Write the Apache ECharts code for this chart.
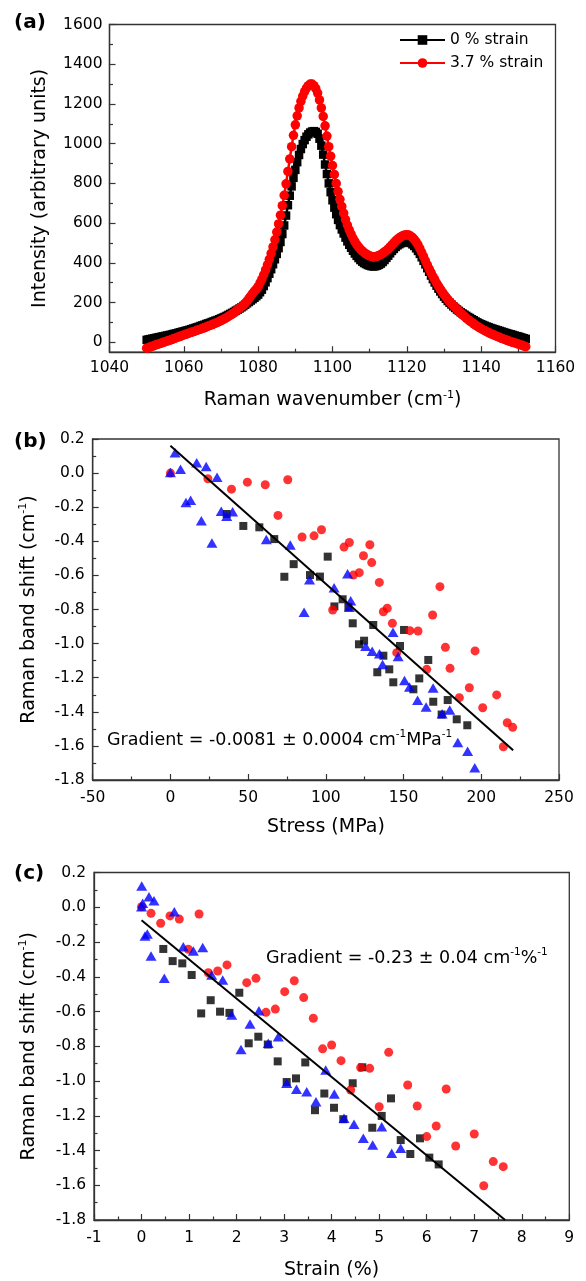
<!DOCTYPE html>
<html><head><meta charset="utf-8">
<script src="https://cdn.jsdelivr.net/npm/echarts@6/dist/echarts.min.js"></script>
<style>html,body{margin:0;padding:0;background:#fff}#c{width:586px;height:1281px}</style>
</head><body><div id="c"></div>
<script>
// ---------- Panel (a) data ----------
const wavenumber = [
1050,1050.5,1051,1051.5,1052,1052.5,1053,1053.5,1054,1054.5,
1055,1055.5,1056,1056.5,1057,1057.5,1058,1058.5,1059,1059.5,
1060,1060.5,1061,1061.5,1062,1062.5,1063,1063.5,1064,1064.5,
1065,1065.5,1066,1066.5,1067,1067.5,1068,1068.5,1069,1069.5,
1070,1070.5,1071,1071.5,1072,1072.5,1073,1073.5,1074,1074.5,
1075,1075.5,1076,1076.5,1077,1077.5,1078,1078.5,1079,1079.5,
1080,1080.5,1081,1081.5,1082,1082.5,1083,1083.5,1084,1084.5,
1085,1085.5,1086,1086.5,1087,1087.5,1088,1088.5,1089,1089.5,
1090,1090.5,1091,1091.5,1092,1092.5,1093,1093.5,1094,1094.5,
1095,1095.5,1096,1096.5,1097,1097.5,1098,1098.5,1099,1099.5,
1100,1100.5,1101,1101.5,1102,1102.5,1103,1103.5,1104,1104.5,
1105,1105.5,1106,1106.5,1107,1107.5,1108,1108.5,1109,1109.5,
1110,1110.5,1111,1111.5,1112,1112.5,1113,1113.5,1114,1114.5,
1115,1115.5,1116,1116.5,1117,1117.5,1118,1118.5,1119,1119.5,
1120,1120.5,1121,1121.5,1122,1122.5,1123,1123.5,1124,1124.5,
1125,1125.5,1126,1126.5,1127,1127.5,1128,1128.5,1129,1129.5,
1130,1130.5,1131,1131.5,1132,1132.5,1133,1133.5,1134,1134.5,
1135,1135.5,1136,1136.5,1137,1137.5,1138,1138.5,1139,1139.5,
1140,1140.5,1141,1141.5,1142,1142.5,1143,1143.5,1144,1144.5,
1145,1145.5,1146,1146.5,1147,1147.5,1148,1148.5,1149,1149.5,
1150,1150.5,1151,1151.5,1152];
const intensity0 = [
12,14,16,18,20,22,24,26,28,30,
32,34,36,38,41,43,45,48,50,53,
55,58,60,63,66,69,72,75,78,82,
85,88,92,95,98,102,105,109,112,116,
120,124,128,133,138,143,148,153,159,164,
170,176,182,189,196,203,210,217,224,232,
240,252,265,283,302,323,345,368,393,418,
445,474,505,545,588,638,690,738,785,828,
868,907,943,973,998,1018,1035,1047,1056,1061,
1063,1059,1050,1025,990,945,895,847,800,756,
715,678,645,616,590,568,548,527,508,491,
476,461,447,435,424,414,406,399,394,389,
386,383,382,383,386,390,396,404,414,425,
436,448,460,470,480,488,494,499,503,505,
506,504,500,493,485,473,460,445,428,410,
392,373,355,336,318,301,285,270,256,243,
230,219,208,199,190,181,173,165,158,151,
145,139,133,127,122,116,111,105,100,95,
91,87,83,79,76,72,69,66,63,60,
57,54,51,48,45,42,40,37,34,31,
29,26,23,20,17];
const intensity37 = [
-30,-27,-23,-20,-17,-13,-10,-7,-4,0,
3,6,9,12,16,19,23,26,30,33,
37,40,43,47,50,53,56,60,63,66,
70,73,77,81,85,88,92,96,100,104,
109,114,119,124,130,136,142,149,156,163,
171,179,187,196,207,220,233,245,257,268,
280,299,318,340,364,390,418,448,480,516,
555,596,640,688,740,798,860,923,985,1042,
1095,1140,1180,1213,1240,1262,1280,1292,1300,1300,
1292,1277,1255,1220,1180,1137,1090,1038,985,937,
890,845,800,759,720,684,650,618,590,566,
545,525,508,493,480,469,460,452,445,440,
435,432,431,431,433,437,442,448,455,462,
470,480,490,500,510,519,526,532,537,540,
542,540,535,528,518,505,490,472,452,431,
410,390,370,351,332,315,298,283,268,254,
240,228,216,205,195,185,175,165,156,147,
138,130,122,114,107,100,93,86,80,74,
68,63,58,53,49,44,40,36,32,28,
24,20,17,13,10,6,3,0,-3,-6,
-9,-12,-15,-19,-22];
const legendNames = ['0 % strain', '3.7 % strain'];
const intensityMajorTicks = [0,200,400,600,800,1000,1200,1400,1600];
const intensityMinorTicks = [100,300,500,700,900,1100,1300,1500];

// ---------- Panel (b) data: shift vs stress ----------
const stressSqB = [36.2,46.9,57.2,66.8,73.3,79.3,89.8,96.2,101.2,105.5,110.8,114.5,117.3,121.3,124.6,130.5,133.1,137,140.8,143.4,147.7,150.3,156.3,160.1,165.9,169.1,174.5,178.4,184.2,191];
const shiftSqB = [-0.24,-0.31,-0.318,-0.387,-0.608,-0.534,-0.598,-0.607,-0.49,-0.782,-0.74,-0.785,-0.881,-1.004,-0.983,-0.891,-1.168,-1.071,-1.151,-1.227,-1.014,-0.92,-1.268,-1.204,-1.096,-1.341,-1.416,-1.331,-1.444,-1.479];
const stressCiB = [0,24.1,39.3,49.5,61,69.2,75.5,84.7,92.4,97.2,104.4,111.7,115.1,117.7,121.5,124.2,128.3,129.5,134.4,137,139.5,142.8,145.6,154.1,159.3,164.9,168.7,173.4,176.9,179.9,185.9,192.3,196,200.9,209.9,214.2,216.7,220.2];
const shiftCiB = [0,-0.033,-0.094,-0.053,-0.068,-0.248,-0.039,-0.375,-0.368,-0.332,-0.803,-0.434,-0.407,-0.598,-0.584,-0.485,-0.42,-0.525,-0.641,-0.813,-0.793,-0.881,-1.053,-0.924,-0.926,-1.151,-0.832,-0.666,-1.022,-1.145,-1.317,-1.259,-1.043,-1.376,-1.301,-1.605,-1.464,-1.491];
const stressTrB = [0,3,6.5,10,13,16.9,19.9,23,26.7,30,32.7,36.2,40,61.7,77.1,86,89.5,105.3,114,116,115.1,125.6,129.8,134.5,136.5,143.2,146.5,150.6,153.8,159,164.5,169,174.8,179.7,184.9,191.2,195.8];
const shiftTrB = [0.003,0.12,0.022,-0.172,-0.159,0.06,-0.28,0.038,-0.41,-0.025,-0.224,-0.253,-0.226,-0.39,-0.421,-0.816,-0.625,-0.673,-0.591,-0.748,-0.787,-1.016,-1.045,-1.06,-1.123,-0.933,-1.076,-1.216,-1.254,-1.332,-1.372,-1.26,-1.412,-1.39,-1.58,-1.632,-1.728];
const fitStressB = [0, 220.5];
const fitShiftB = [0.16, -1.625];

// ---------- Panel (c) data: shift vs strain ----------
const strainSqC = [0.458,0.655,0.858,1.055,1.255,1.455,1.652,1.85,2.057,2.255,2.457,2.657,2.865,3.054,3.25,3.445,3.65,3.846,4.05,4.245,4.443,4.645,4.855,5.053,5.249,5.453,5.655,5.859,6.055,6.252];
const shiftSqC = [-0.24,-0.31,-0.323,-0.39,-0.611,-0.535,-0.601,-0.608,-0.492,-0.783,-0.745,-0.79,-0.887,-1.006,-0.985,-0.893,-1.168,-1.072,-1.154,-1.22,-1.013,-0.921,-1.269,-1.201,-1.1,-1.34,-1.42,-1.33,-1.441,-1.48];
const strainCiC = [0,0.2,0.403,0.599,0.795,0.984,1.21,1.405,1.603,1.798,2.213,2.408,2.619,2.815,3.012,3.214,3.412,3.614,3.81,4.0,4.197,4.4,4.61,4.8,5.0,5.2,5.6,5.8,6.0,6.2,6.41,6.61,7.0,7.2,7.4,7.61];
const shiftCiC = [0.003,-0.035,-0.092,-0.05,-0.068,-0.242,-0.039,-0.377,-0.367,-0.332,-0.434,-0.409,-0.605,-0.586,-0.486,-0.423,-0.52,-0.639,-0.815,-0.793,-0.883,-1.052,-0.923,-0.927,-1.148,-0.835,-1.023,-1.144,-1.32,-1.259,-1.046,-1.374,-1.305,-1.603,-1.464,-1.493];
const strainTrC = [0,0.004,0.024,0.073,0.122,0.157,0.2,0.262,0.479,0.69,0.879,1.09,1.287,1.476,1.708,1.897,2.093,2.282,2.47,2.667,2.877,3.054,3.26,3.475,3.67,3.875,4.056,4.26,4.47,4.666,4.863,5.053,5.263,5.453];
const shiftTrC = [0.003,0.122,0.023,-0.165,-0.154,0.061,-0.28,0.038,-0.409,-0.026,-0.227,-0.252,-0.231,-0.39,-0.419,-0.62,-0.818,-0.672,-0.595,-0.783,-0.745,-1.013,-1.048,-1.062,-1.119,-0.937,-1.075,-1.215,-1.249,-1.33,-1.368,-1.263,-1.416,-1.387];
const fitStrainC = [0, 7.65];
const fitShiftC = [-0.075, -1.8];

const gradientTextB = 'Gradient = -0.0081 \u00b1 0.0004 cm{sup|-1}MPa{sup|-1}';
const gradientTextC = 'Gradient = -0.23 \u00b1 0.04 cm{sup|-1}%{sup|-1}';

// ---------- build ----------
const zip = (xs, ys) => xs.map((x, i) => [x, ys[i]]);
const FONT = 'DejaVu Sans';
const LINE = '#333';
const TXT = '#000';
const supRich = {sup: {fontFamily: FONT, fontSize: 11, lineHeight: 12, verticalAlign: 'top', color: TXT}};

function axis(o) {
  const a = {
    type: 'value', gridIndex: o.grid, min: o.min, max: o.max,
    name: o.name, nameLocation: 'middle', nameGap: o.nameGap, nameMoveOverlap: false,
    nameTextStyle: {fontFamily: FONT, fontSize: 19, color: TXT, lineHeight: 22, rich: supRich},
    axisLine: {show: true, onZero: false, lineStyle: {color: LINE, width: 1.3}},
    axisTick: {show: true, inside: true, length: 6, lineStyle: {color: LINE, width: 1.2}},
    minorTick: {show: true, splitNumber: 2, length: 3.5, lineStyle: {color: LINE, width: 1.2}},
    axisLabel: {fontFamily: FONT, fontSize: 15.5, color: TXT, margin: o.margin, formatter: o.fmt},
    splitLine: {show: false}, minorSplitLine: {show: false}
  };
  if (o.interval !== undefined) a.interval = o.interval;
  return a;
}
const f1 = v => (Math.round(v * 10) / 10).toFixed(1);
const f0 = v => String(Math.round(v));

const gridBase = {show: true, borderColor: LINE, borderWidth: 1.3, backgroundColor: 'transparent', containLabel: false, outerBoundsMode: 'none'};

const yA = axis({grid: 0, min: -50, max: 1600, name: 'Intensity (arbitrary units)', nameGap: 58, margin: 7, fmt: f0});
yA.axisTick.customValues = intensityMajorTicks;
yA.axisLabel.customValues = intensityMajorTicks;
yA.minorTick = {show: false};
const yAminor = {
  type: 'value', gridIndex: 0, min: -50, max: 1600, position: 'left',
  axisLine: {show: false}, axisLabel: {show: false}, splitLine: {show: false},
  axisTick: {show: true, inside: true, length: 3.5, customValues: intensityMinorTicks, lineStyle: {color: LINE, width: 1.2}}
};

const option = {
  animation: false,
  backgroundColor: '#fff',
  grid: [
    Object.assign({left: 109.5, top: 24.5, width: 446, height: 327.7}, gridBase),
    Object.assign({left: 92.7, top: 439, width: 466.3, height: 341}, gridBase),
    Object.assign({left: 94, top: 872.5, width: 475.3, height: 347.5}, gridBase)
  ],
  xAxis: [
    axis({grid: 0, min: 1040, max: 1160, interval: 20, name: 'Raman wavenumber (cm{sup|-1})', nameGap: 37, margin: 8, fmt: f0}),
    axis({grid: 1, min: -50, max: 250, interval: 50, name: 'Stress (MPa)', nameGap: 36, margin: 9.5, fmt: f0}),
    axis({grid: 2, min: -1, max: 9, interval: 1, name: 'Strain (%)', nameGap: 39, margin: 9.5, fmt: f0})
  ],
  yAxis: [
    yA, yAminor,
    axis({grid: 1, min: -1.8, max: 0.2, interval: 0.2, name: 'Raman band shift (cm{sup|-1})', nameGap: 52.7, margin: 8, fmt: f1}),
    axis({grid: 2, min: -1.8, max: 0.2, interval: 0.2, name: 'Raman band shift (cm{sup|-1})', nameGap: 54, margin: 8, fmt: f1})
  ],
  legend: {
    data: legendNames, orient: 'vertical', left: 399, top: 32, padding: 0,
    itemWidth: 45, itemHeight: 12, itemGap: 7,
    textStyle: {fontFamily: FONT, fontSize: 15.5, color: TXT}
  },
  series: [
    {type: 'line', name: legendNames[0], xAxisIndex: 0, yAxisIndex: 0, data: zip(wavenumber, intensity0),
     symbol: 'rect', symbolSize: 8.5, itemStyle: {color: '#000'}, lineStyle: {color: '#000', width: 2.5}},
    {type: 'line', name: legendNames[1], xAxisIndex: 0, yAxisIndex: 0, data: zip(wavenumber, intensity37),
     symbol: 'circle', symbolSize: 9.5, itemStyle: {color: '#ff0000'}, lineStyle: {color: '#ff0000', width: 2.5}},

    {type: 'scatter', name: 'b-sq', xAxisIndex: 1, yAxisIndex: 2, data: zip(stressSqB, shiftSqB), symbol: 'rect', symbolSize: 8, itemStyle: {color: '#000'}},
    {type: 'scatter', name: 'b-ci', xAxisIndex: 1, yAxisIndex: 2, data: zip(stressCiB, shiftCiB), symbol: 'circle', symbolSize: 9, itemStyle: {color: '#ff0000'}},
    {type: 'scatter', name: 'b-tr', xAxisIndex: 1, yAxisIndex: 2, data: zip(stressTrB, shiftTrB), symbol: 'triangle', symbolSize: [11, 9.5], itemStyle: {color: '#0000ff'}},
    {type: 'line', name: 'b-fit', xAxisIndex: 1, yAxisIndex: 2, data: zip(fitStressB, fitShiftB), symbol: 'none', lineStyle: {color: '#000', width: 2}, z: 5},

    {type: 'scatter', name: 'c-sq', xAxisIndex: 2, yAxisIndex: 3, data: zip(strainSqC, shiftSqC), symbol: 'rect', symbolSize: 8, itemStyle: {color: '#000'}},
    {type: 'scatter', name: 'c-ci', xAxisIndex: 2, yAxisIndex: 3, data: zip(strainCiC, shiftCiC), symbol: 'circle', symbolSize: 9, itemStyle: {color: '#ff0000'}},
    {type: 'scatter', name: 'c-tr', xAxisIndex: 2, yAxisIndex: 3, data: zip(strainTrC, shiftTrC), symbol: 'triangle', symbolSize: [11, 9.5], itemStyle: {color: '#0000ff'}},
    {type: 'line', name: 'c-fit', xAxisIndex: 2, yAxisIndex: 3, data: zip(fitStrainC, fitShiftC), symbol: 'none', lineStyle: {color: '#000', width: 2}, z: 5}
  ],
  graphic: [
    {type: 'text', left: 14, top: 13, style: {text: '(a)', font: 'bold 20px "DejaVu Sans"', fill: '#000'}},
    {type: 'text', left: 14, top: 432, style: {text: '(b)', font: 'bold 20px "DejaVu Sans"', fill: '#000'}},
    {type: 'text', left: 14, top: 864, style: {text: '(c)', font: 'bold 20px "DejaVu Sans"', fill: '#000'}},
    {type: 'text', left: 107, top: 729, style: {text: gradientTextB, fontFamily: FONT, fontSize: 17.5, lineHeight: 22, fill: '#000', rich: {sup: {fontFamily: FONT, fontSize: 10.5, lineHeight: 11, verticalAlign: 'top', fill: '#000'}}}},
    {type: 'text', left: 266, top: 947, style: {text: gradientTextC, fontFamily: FONT, fontSize: 17.5, lineHeight: 22, fill: '#000', rich: {sup: {fontFamily: FONT, fontSize: 10.5, lineHeight: 11, verticalAlign: 'top', fill: '#000'}}}}
  ]
};

const chart = echarts.init(document.getElementById('c'), null, {renderer: 'canvas'});
chart.setOption(option);
</script>
</body></html>
